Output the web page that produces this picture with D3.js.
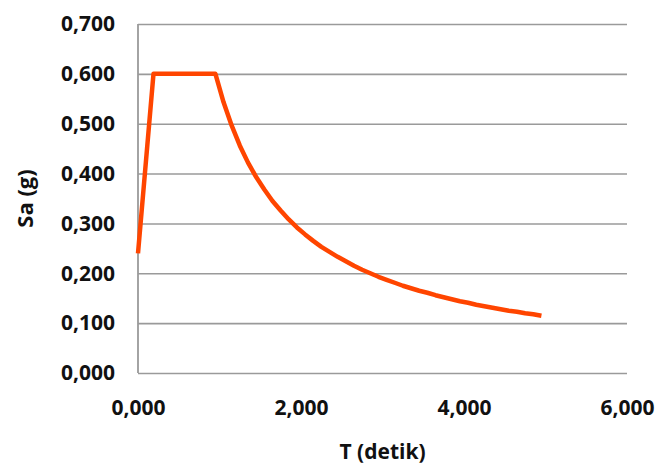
<!DOCTYPE html>
<html>
<head>
<meta charset="utf-8">
<script src="https://cdn.jsdelivr.net/npm/d3@7"></script>
<style>
  html, body { margin: 0; padding: 0; background: #fff; }
  svg { display: block; }
</style>
</head>
<body>
<svg id="chart" width="659" height="468"></svg>
<script>
// Data (T in seconds, Sa in g)
const periodT = [0, 0.19, 0.95, 1.05, 1.15, 1.25, 1.35, 1.45, 1.55, 1.65, 1.75, 1.85, 1.95,
  2.05, 2.15, 2.25, 2.35, 2.45, 2.55, 2.65, 2.75, 2.85, 2.95, 3.05, 3.15, 3.25, 3.35, 3.45,
  3.55, 3.65, 3.75, 3.85, 3.95, 4.05, 4.15, 4.25, 4.35, 4.45, 4.55, 4.65, 4.75, 4.85, 4.95];
const saValues = [0.240, 0.600, 0.600, 0.543, 0.496, 0.456, 0.422, 0.393, 0.368, 0.345, 0.326, 0.308, 0.292,
  0.278, 0.265, 0.253, 0.243, 0.233, 0.224, 0.215, 0.207, 0.200, 0.193, 0.187, 0.181, 0.175, 0.170, 0.165,
  0.161, 0.156, 0.152, 0.148, 0.144, 0.141, 0.137, 0.134, 0.131, 0.128, 0.125, 0.123, 0.120, 0.118, 0.115];
const xTicks = [0, 2, 4, 6];
const yTicks = [0, 0.1, 0.2, 0.3, 0.4, 0.5, 0.6, 0.7];
const xTitle = "T (detik)";
const yTitle = "Sa (g)";

const W = 659, H = 468;
const margin = { top: 24, right: 32, bottom: 95, left: 138 };
const svg = d3.select("#chart");
const x = d3.scaleLinear().domain([0, 6]).range([margin.left, W - margin.right]);
const y = d3.scaleLinear().domain([0, 0.7]).range([H - margin.bottom, margin.top]);
const fmt = v => d3.format(".3f")(v).replace(".", ",");
const font = "'Open Sans', 'DejaVu Sans', sans-serif";

// Gridlines
svg.append("g")
  .call(d3.axisLeft(y).tickValues(yTicks).tickSize(-(W - margin.left - margin.right)).tickFormat(""))
  .attr("transform", `translate(${margin.left},0)`)
  .call(g => g.select(".domain").remove())
  .call(g => g.selectAll("line").attr("stroke", "#9a9a9a").attr("stroke-width", 1.6));

// Vertical axis line
svg.append("line")
  .attr("x1", x(0)).attr("x2", x(0))
  .attr("y1", y(0.7)).attr("y2", y(0))
  .attr("stroke", "#9a9a9a").attr("stroke-width", 1.8);

// Y tick labels
const yAxis = svg.append("g")
  .attr("transform", `translate(${margin.left - 23},0)`)
  .call(d3.axisLeft(y).tickValues(yTicks).tickSize(0).tickPadding(0).tickFormat(fmt));
yAxis.select(".domain").remove();
yAxis.selectAll("text")
  .attr("font-family", font).attr("font-size", 21).attr("font-weight", "bold").attr("fill", "#111");

// X tick labels
const xAxis = svg.append("g")
  .attr("transform", `translate(0,${y(0)})`)
  .call(d3.axisBottom(x).tickValues(xTicks).tickSize(0).tickPadding(27).tickFormat(fmt));
xAxis.select(".domain").remove();
xAxis.selectAll("text")
  .attr("font-family", font).attr("font-size", 21).attr("font-weight", "bold").attr("fill", "#111");

// Line
const pts = periodT.map((t, i) => [t, saValues[i]]);
svg.append("path")
  .datum(pts)
  .attr("fill", "none")
  .attr("stroke", "#ff4500")
  .attr("stroke-width", 4.5)
  .attr("stroke-linejoin", "round")
  .attr("d", d3.line().x(d => x(d[0])).y(d => y(d[1])));

// Axis titles
svg.append("text")
  .attr("x", (x(0) + x(6)) / 2).attr("y", 459)
  .attr("text-anchor", "middle")
  .attr("font-family", font).attr("font-size", 21).attr("font-weight", "bold").attr("fill", "#111")
  .text(xTitle);
svg.append("text")
  .attr("transform", `translate(33,${(y(0) + y(0.7)) / 2}) rotate(-90)`)
  .attr("text-anchor", "middle")
  .attr("font-family", font).attr("font-size", 22).attr("font-weight", "bold").attr("fill", "#111")
  .text(yTitle);
</script>
</body>
</html>
